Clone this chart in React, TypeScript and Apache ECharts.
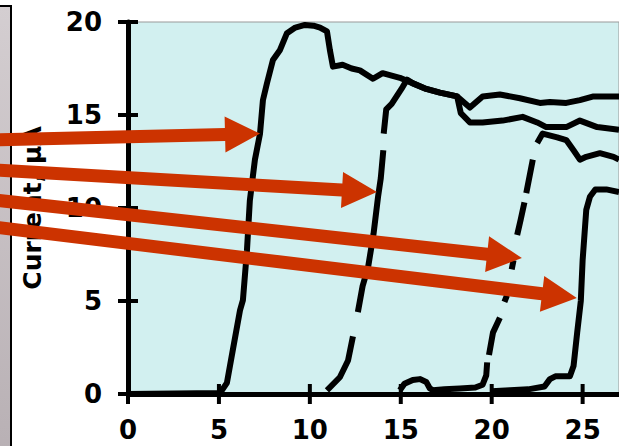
import React, { useEffect, useRef } from 'react';
import * as echarts from 'echarts';

// Tick labels
const xTicks = [0, 5, 10, 15, 20, 25];
const yTicks = [0, 5, 10, 15, 20];
const yAxisTitle = 'Current, µA';

// Curves (time vs current), null = gap in the trace
const curve1: (number | null)[][] = [
  [0, 0], [5.06, 0.05], [5.44, 0.6], [5.77, 2.4], [6.16, 4.5], [6.32, 5.05], [6.54, 7.7], [6.7, 10.4],
  [6.98, 12.6], [7.26, 14.0], [7.42, 15.8], [7.64, 16.7], [7.97, 17.96], [8.36, 18.5], [8.74, 19.4],
  [9.2, 19.7], [9.73, 19.84], [10.2, 19.8], [10.56, 19.7], [10.94, 19.5], [11.1, 18.5], [11.27, 17.6],
  [11.8, 17.7], [12.3, 17.5], [12.75, 17.4], [13.47, 16.95], [14.0, 17.25], [14.95, 17.0], [15.67, 16.7],
  [16.4, 16.4], [17.15, 16.2], [18.1, 16.0], [18.3, 15.1], [18.8, 14.6], [19.5, 14.6], [20.6, 14.7],
  [21.7, 14.9], [22.5, 14.6], [23.0, 14.35], [24.1, 14.35], [24.85, 14.7], [25.8, 14.35], [27, 14.2],
];
const curve2: (number | null)[][] = [
  [10.94, 0.2], [11.65, 0.9], [12.1, 1.8], [12.37, 3.1], [12.5, null], [12.64, 4.4], [12.9, 5.8],
  [13.2, 6.8], [13.5, 8.6], [13.75, 10.6], [13.9, 11.6], [14.04, 13.1], [14.05, null], [14.06, 14.0],
  [14.2, 15.3], [14.5, 15.6], [15.1, 16.5], [15.34, 16.9], [15.67, 16.7], [16.4, 16.4], [17.15, 16.2],
  [18.1, 16.0], [18.8, 15.4], [19.5, 16.0], [20.45, 16.1], [21.55, 15.9], [22.65, 15.65], [23.2, 15.7],
  [24.1, 15.65], [24.85, 15.8], [25.6, 16.0], [27, 16.0],
];
const curve3: (number | null)[][] = [
  [14.95, 0.2], [15.2, 0.55], [15.66, 0.75], [16.05, 0.8], [16.4, 0.65], [16.6, 0.3], [16.77, 0.2],
  [17.4, 0.25], [18.25, 0.3], [19.1, 0.35], [19.5, 0.5], [19.7, 1.0], [19.75, 1.7], [19.8, null],
  [19.85, 2.1], [20.07, 3.3], [20.45, 4.1], [20.55, null], [20.7, 4.95], [20.84, 5.3], [20.95, null],
  [21.1, 6.7], [21.2, 7.2], [21.3, null], [21.4, 8.55], [21.6, 9.4], [21.8, 10.3], [21.85, null],
  [21.9, 10.8], [22.26, 12.6], [22.4, null], [22.5, 13.5], [22.8, 14.0], [23.6, 13.8], [24.1, 13.65],
  [24.5, 13.1], [24.85, 12.6], [25.2, 12.75], [25.95, 12.95], [26.7, 12.75], [27, 12.6],
];
const curve4: (number | null)[][] = [
  [20, 0.15], [21, 0.2], [22, 0.25], [22.9, 0.4], [23.2, 0.8], [23.5, 0.95], [24.3, 0.95], [24.5, 1.5],
  [24.7, 3.3], [24.9, 5.0], [25.0, 7.2], [25.2, 9.9], [25.4, 10.6], [25.7, 11.0], [26.3, 11.0], [27, 10.85],
];

// Arrow annotations: tip x, tip y (data), tail y at the left edge (pixels)
const arrowTipX = [7.26, 13.69, 21.66, 24.68];
const arrowTipY = [14.0, 10.86, 7.31, 5.16];
const arrowTailY = [140, 170, 200, 227];

const labelFont = { color: '#000', fontFamily: 'DejaVu Sans', fontWeight: 'bold' as const, fontSize: 26 };

export default function App() {
  const ref = useRef<HTMLDivElement>(null);
  useEffect(() => {
    if (!ref.current) return;
    const chart = echarts.init(ref.current, null, { renderer: 'svg' });
    const mkSeries = (data: (number | null)[][]) => ({
      type: 'line', data, showSymbol: false, connectNulls: false,
      lineStyle: { color: '#000', width: 6, join: 'round', cap: 'butt' },
      itemStyle: { color: '#000' }, z: 3,
    });
    const arrowData = arrowTipX.map((x, i) => [x, arrowTipY[i], arrowTailY[i]]);
    // cross ticks: [x, y, direction(0 = on x axis, 1 = on y axis)]
    const tickData = [...xTicks.map((v) => [v, 0, 0]), ...yTicks.map((v) => [0, v, 1])];
    chart.setOption({
      animation: false,
      backgroundColor: '#fff',
      grid: { left: 128, right: 0, top: 22, bottom: 52, show: true, backgroundColor: '#d2f0f0', borderColor: '#999', borderWidth: 1 },
      xAxis: {
        type: 'value', min: 0, max: 27, position: 'bottom',
        axisLine: { show: true, lineStyle: { color: '#000', width: 5 } },
        axisTick: { show: false },
        axisLabel: { ...labelFont, margin: 23, customValues: xTicks },
        splitLine: { show: false },
      },
      yAxis: {
        type: 'value', min: 0, max: 20, interval: 5, position: 'left',
        axisLine: { show: true, lineStyle: { color: '#000', width: 5 } },
        axisTick: { show: false },
        axisLabel: { ...labelFont, margin: 26 },
        splitLine: { show: false },
        name: yAxisTitle, nameLocation: 'middle', nameGap: 83, nameRotate: 90,
        nameTextStyle: { ...labelFont, fontSize: 25 },
      },
      graphic: [
        {
          type: 'rect', shape: { x: -3, y: 6, width: 14, height: 450 }, z: 5,
          style: {
            fill: new echarts.graphic.LinearGradient(0, 0, 0, 1, [
              { offset: 0, color: '#d4ced1' }, { offset: 1, color: '#b8b0b4' },
            ]),
            stroke: '#000', lineWidth: 2,
          },
        },
      ],
      series: [
        mkSeries(curve1), mkSeries(curve2), mkSeries(curve3), mkSeries(curve4),
        {
          type: 'custom', data: tickData, clip: false, z: 4, silent: true,
          encode: { x: 0, y: 1 },
          renderItem: (params: any, api: any) => {
            const p = api.coord([api.value(0), api.value(1)]);
            const horiz = api.value(2) === 1;
            return {
              type: 'line',
              shape: horiz
                ? { x1: p[0] - 10, y1: p[1], x2: p[0] + 10, y2: p[1] }
                : { x1: p[0], y1: p[1] - 10, x2: p[0], y2: p[1] + 10 },
              style: { stroke: '#000', lineWidth: 4 },
            };
          },
        },
        {
          type: 'custom', data: arrowData, clip: false, z: 10, silent: true,
          encode: { x: 0, y: 1 },
          renderItem: (params: any, api: any) => {
            const tip = api.coord([api.value(0), api.value(1)]);
            const tail = [-6, api.value(2)];
            const dx = tip[0] - tail[0], dy = tip[1] - tail[1];
            const len = Math.hypot(dx, dy);
            const ux = dx / len, uy = dy / len;
            const nx = -uy, ny = ux;
            const headLen = 35, shaftHalf = 6.5, headHalf = 18;
            const bx = tip[0] - ux * headLen, by = tip[1] - uy * headLen;
            return {
              type: 'polygon',
              shape: {
                points: [
                  [tail[0] + nx * shaftHalf, tail[1] + ny * shaftHalf],
                  [bx + nx * shaftHalf, by + ny * shaftHalf],
                  [bx + nx * headHalf, by + ny * headHalf],
                  [tip[0], tip[1]],
                  [bx - nx * headHalf, by - ny * headHalf],
                  [bx - nx * shaftHalf, by - ny * shaftHalf],
                  [tail[0] - nx * shaftHalf, tail[1] - ny * shaftHalf],
                ],
              },
              style: { fill: '#cc3300' },
            };
          },
        },
      ],
    });
    return () => chart.dispose();
  }, []);
  return <div ref={ref} style={{ position: 'fixed', left: 0, top: 0, width: 619, height: 446 }} />;
}
